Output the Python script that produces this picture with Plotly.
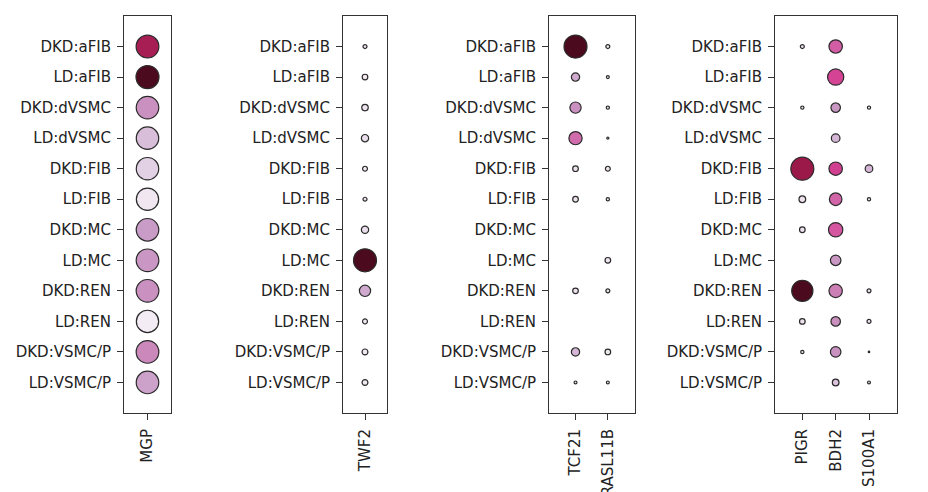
import numpy as np
import plotly.graph_objects as go

groups = ["DKD:aFIB", "LD:aFIB", "DKD:dVSMC", "LD:dVSMC", "DKD:FIB", "LD:FIB",
          "DKD:MC", "LD:MC", "DKD:REN", "LD:REN", "DKD:VSMC/P", "LD:VSMC/P"]

# fraction of cells expressing (dot area) and scaled mean expression (colour); None = no dot
MGP_frac = [0.98, 1.0, 0.96, 0.95, 0.95, 0.94, 0.96, 0.97, 0.97, 0.94, 0.97, 0.96]
MGP_expr = [0.82, 1.0, 0.45, 0.27, 0.2, 0.07, 0.4, 0.42, 0.45, 0.04, 0.48, 0.38]

TWF2_frac = [0.03, 0.06, 0.08, 0.1, 0.045, 0.03, 0.1, 1.0, 0.24, 0.045, 0.065, 0.065]
TWF2_expr = [0.1, 0.05, 0.08, 0.12, 0.06, 0.1, 0.12, 1.0, 0.35, 0.06, 0.06, 0.06]

TCF21_frac = [1.0, 0.13, 0.24, 0.33, 0.06, 0.06, None, None, 0.06, None, 0.13, 0.016]
TCF21_expr = [1.0, 0.35, 0.45, 0.58, 0.1, 0.1, None, None, 0.1, None, 0.3, 0.1]
RASL11B_frac = [0.03, 0.016, 0.02, 0.008, 0.045, 0.02, None, 0.06, 0.03, None, 0.06, 0.016]
RASL11B_expr = [0.1, 0.1, 0.1, 0.1, 0.1, 0.1, None, 0.08, 0.1, None, 0.08, 0.1]

PIGR_frac = [0.03, None, 0.02, None, 1.0, 0.085, 0.06, None, 0.85, 0.06, 0.02, None]
PIGR_expr = [0.1, None, 0.1, None, 0.85, 0.1, 0.1, None, 1.0, 0.1, 0.1, None]
BDH2_frac = [0.34, 0.5, 0.17, 0.14, 0.34, 0.3, 0.39, 0.21, 0.34, 0.17, 0.21, 0.085]
BDH2_expr = [0.62, 0.69, 0.42, 0.3, 0.7, 0.6, 0.64, 0.42, 0.52, 0.45, 0.45, 0.25]
S100A1_frac = [None, None, 0.02, None, 0.11, 0.02, None, None, 0.03, 0.03, 0.004, 0.016]
S100A1_expr = [None, None, 0.1, None, 0.3, 0.1, None, None, 0.1, 0.1, 0.1, 0.1]

panels = [
    (["MGP"], [MGP_frac], [MGP_expr]),
    (["TWF2"], [TWF2_frac], [TWF2_expr]),
    (["TCF21", "RASL11B"], [TCF21_frac, RASL11B_frac], [TCF21_expr, RASL11B_expr]),
    (["PIGR", "BDH2", "S100A1"], [PIGR_frac, BDH2_frac, S100A1_frac],
     [PIGR_expr, BDH2_expr, S100A1_expr]),
]

W, H = 928, 492
OFF = 8  # page body margin offset
box_x = [(124, 171), (343, 387), (549, 635), (775, 897)]
box_y = (16, 413)

cscale = [[0.0, "#f8f3f8"], [0.2, "#e2d0e4"], [0.4, "#c99cc7"], [0.55, "#cd78b1"],
          [0.68, "#d8469a"], [0.83, "#a41b4f"], [1.0, "#4c0a1f"]]
MAXD = 23

fig = go.Figure()
layout = dict(width=W, height=H, margin=dict(l=0, r=0, t=0, b=0, autoexpand=False),
              paper_bgcolor="white", plot_bgcolor="white", showlegend=False,
              font=dict(family="DejaVu Sans", size=15, color="#222222"))

for p, (genes, fracs, exprs) in enumerate(panels):
    xs, ys, sz, col = [], [], [], []
    for gi, g in enumerate(genes):
        for ri, grp in enumerate(groups):
            f = fracs[gi][ri]
            if f is None:
                continue
            xs.append(g)
            ys.append(grp)
            sz.append(MAXD * np.sqrt(f))
            col.append(exprs[gi][ri])
    sfx = "" if p == 0 else str(p + 1)
    fig.add_trace(go.Scatter(
        x=xs, y=ys, mode="markers", xaxis="x" + sfx, yaxis="y" + sfx,
        marker=dict(size=sz, color=col, colorscale=cscale, cmin=0, cmax=1,
                    line=dict(color="#2a2a2a", width=1.2), opacity=1),
        hoverinfo="skip"))
    n = len(genes)
    x0, x1 = box_x[p]
    layout["xaxis" + sfx] = dict(
        domain=[(x0 - OFF) / W, (x1 - OFF) / W], anchor="y" + sfx, type="category",
        categoryorder="array", categoryarray=genes,
        range=[-0.7 if n == 1 else -0.82, n - 1 + (0.7 if n == 1 else 0.84)],
        tickangle=-90, ticks="outside", ticklen=6, tickcolor="#333",
        ticklabelstandoff=3,
        showline=True, linecolor="#333", linewidth=1, mirror=True,
        showgrid=False, zeroline=False, fixedrange=True, automargin=False)
    layout["yaxis" + sfx] = dict(
        domain=[1 - (box_y[1] - OFF) / H, 1 - (box_y[0] - OFF) / H],
        anchor="x" + sfx, type="category",
        categoryorder="array", categoryarray=groups, range=[12, -1],
        ticks="outside", ticklen=6, tickcolor="#333", ticklabelstandoff=3,
        showline=True, linecolor="#333", linewidth=1, mirror=True,
        showgrid=False, zeroline=False, fixedrange=True, automargin=False)

fig.update_layout(**layout)
fig.write_html("out.html")
